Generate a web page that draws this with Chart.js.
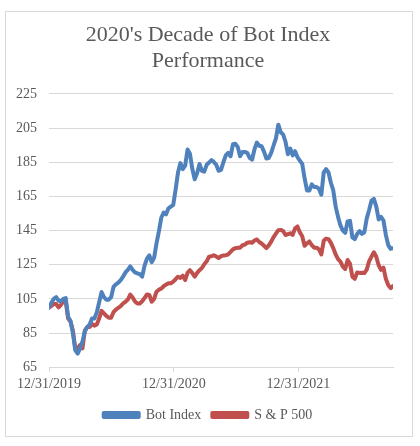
<!DOCTYPE html>
<html>
<head>
<meta charset="utf-8">
<script src="https://cdn.jsdelivr.net/npm/chart.js@4.4.1/dist/chart.umd.min.js"></script>
<style>
  html, body { margin: 0; padding: 0; background: #ffffff; }
  #wrap { position: relative; width: 420px; height: 446px; }
  #frame {
    position: absolute; left: 5px; top: 11px;
    width: 406px; height: 424px;
    border: 1px solid #d9d9d9;
  }
  #chart { position: absolute; left: 0; top: 0; }
</style>
</head>
<body>
<div id="wrap">
  <div id="frame"></div>
  <canvas id="chart" width="420" height="446"></canvas>
</div>
<script>
// weekly closes, starting 12/31/2019 (one value per week)
const botIndex = [
  100, 102.7, 105, 106, 104, 103.5, 105, 105.5, 94.5, 92,
  85, 75, 73, 76, 80, 86, 88.5, 90, 93.5, 93.5,
  97, 103, 109, 106, 104.5, 104.5, 106, 112, 113.5, 114.5,
  116, 118, 120.5, 122, 124, 122, 120.5, 120, 119.5, 118,
  124.5, 128.5, 130.5, 126.5, 129, 137.5, 144.5, 152.5, 155.5, 154.5,
  158, 159, 160, 169, 179, 184.5, 181, 183, 192.5, 190,
  181, 175, 178.5, 184, 180, 179.5, 183.5, 184.8, 186.2, 185.2,
  183.5, 180, 180.5, 185, 189, 190.5, 188.5, 195.5, 195.8, 194,
  188.5, 191, 191, 190.5, 187.5, 186.5, 192.5, 196.5, 194.7, 194.4,
  191.2, 187.2, 187.5, 190.5, 194.8, 199, 207, 202.5, 201.3, 197,
  189.7, 193, 189, 191.5, 188, 186, 184, 175.5, 168.5, 168.5,
  172, 170.5, 170.5, 169.5, 166, 179, 181, 179, 173, 168.5,
  159, 153, 148, 145, 143.7, 150.3, 150.7, 141, 140, 143,
  144.7, 143, 144, 152, 157, 162.5, 163.5, 159, 151.5, 153,
  151, 142.5, 136.5, 134.3, 134.6
];
const sp500 = [
  100, 100.8, 102, 102, 100, 101.5, 103.5, 103.5, 93.5, 91.7,
  86.5, 76, 76, 78, 76, 86.5, 88.5, 88.5, 90.3, 89.3,
  90, 93.5, 98, 96.5, 95, 94, 94, 97.2, 98.7, 99.8,
  100.8, 102.3, 103.3, 104.6, 107.5, 105.8, 103.5, 102.3, 102.3, 103.6,
  105.5, 107.6, 107.3, 103.3, 105, 109.2, 110.4, 111, 112.4, 113.4,
  114.1, 114.1, 115.1, 116.5, 118, 117.3, 118.6, 116, 120.3, 121.8,
  120.1, 118, 120.2, 121.8, 123.1, 125.3, 127, 129.7, 130, 130.5,
  129.8, 128.9, 130, 130.4, 130.6, 131, 132.5, 134, 134.7, 134.9,
  135, 136.4, 136.8, 137.9, 138.2, 137.9, 139.2, 139.8, 138.3, 137.4,
  136.1, 134.7, 136.3, 138.5, 141.2, 143.2, 145.2, 145.4, 144.7, 142.4,
  142.9, 143.4, 142.5, 146.3, 147.4, 144, 141.7, 136.1, 137.5, 138.6,
  136.5, 135, 135, 134, 131, 139, 140.3, 140, 137.8, 134.7,
  131, 128.3, 126.8, 123.9, 122.5, 127.8, 125.5, 118, 116.7, 120.5,
  120.2, 120.3, 120.1, 122.1, 127, 129.8, 132.3, 129.7, 124.7, 122,
  123.3, 116.8, 113.1, 111.3, 112.5
];
const seriesNames = ['Bot Index', 'S & P 500'];
const tickDays   = [0, 366, 731];
const tickLabels = ['12/31/2019', '12/31/2020', '12/31/2021'];
const titleLines = ["2020's Decade of Bot Index", 'Performance'];

const BLUE = '#4F81BD';
const RED  = '#C0504D';
const TEXT = '#595959';
const GRID = '#d9d9d9';
const FONT = "'Liberation Serif', 'Times New Roman', serif";

const toPoints = vals => vals.map((v, i) => ({ x: i * 7, y: v }));

const lineStyle = color => ({
  borderColor: color,
  backgroundColor: color,
  borderWidth: 4,
  pointRadius: 0,
  tension: 0,
  fill: false,
  borderJoinStyle: 'round',
  borderCapStyle: 'round',
});

// title and legend sit centred on the frame, not on the plot
const centreOnFrame = {
  id: 'centreOnFrame',
  afterLayout(chart) {
    if (chart.titleBlock) chart.titleBlock.left += 23;
    if (chart.legend) chart.legend.left += 23;
  },
};

new Chart(document.getElementById('chart'), {
  type: 'line',
  data: {
    datasets: [
      { label: seriesNames[0], data: toPoints(botIndex), ...lineStyle(BLUE) },
      { label: seriesNames[1], data: toPoints(sp500), ...lineStyle(RED) },
    ],
  },
  options: {
    responsive: false,
    animation: false,
    layout: { padding: { left: 0, right: 27, top: 0, bottom: 14 } },
    scales: {
      x: {
        type: 'linear',
        min: 0,
        max: (botIndex.length - 1) * 7,
        afterBuildTicks: axis => { axis.ticks = tickDays.map(v => ({ value: v })); },
        ticks: {
          callback: v => tickLabels[tickDays.indexOf(v)] || '',
          font: { family: FONT, size: 14 },
          color: TEXT,
          padding: 4,
          maxRotation: 0,
          autoSkip: false,
        },
        grid: { drawOnChartArea: false, drawTicks: true, tickLength: 5, color: GRID },
        border: { color: GRID },
      },
      y: {
        min: 65,
        max: 225,
        afterFit: axis => { axis.width = 49; },
        ticks: {
          stepSize: 20,
          font: { family: FONT, size: 14 },
          color: TEXT,
          padding: 12,
        },
        grid: { color: GRID, drawTicks: false },
        border: { display: false },
      },
    },
    plugins: {
      title: {
        display: true,
        text: titleLines,
        color: TEXT,
        font: { family: FONT, size: 22, weight: 'normal', lineHeight: 1.18 },
        padding: { top: 22, bottom: 20 },
      },
      legend: {
        position: 'bottom',
        labels: {
          boxWidth: 35,
          boxHeight: 4,
          padding: 11,
          color: TEXT,
          font: { family: FONT, size: 14 },
        },
      },
      tooltip: { enabled: false },
    },
  },
  plugins: [centreOnFrame],
});
</script>
</body>
</html>
